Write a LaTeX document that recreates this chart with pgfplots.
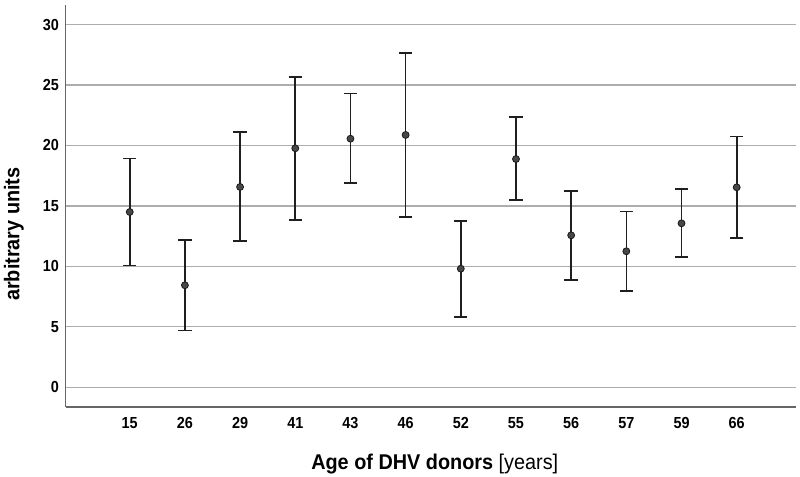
\documentclass[border=0pt]{standalone}
\usepackage{fontspec}
\setmainfont{Liberation Sans}
\newfontfamily\tickfont[FakeStretch=0.9]{Liberation Sans}
\newfontfamily\labfont[FakeStretch=0.93]{Liberation Sans}
\usepackage{pgfplots}
\pgfplotsset{compat=1.18}
\begin{document}
\begin{tikzpicture}
\useasboundingbox (-49.3pt,-52.5pt) rectangle (550.7pt,305.25pt);
\begin{axis}[
  at={(0,0)}, anchor=south west,
  scale only axis, width=547.5pt, height=301.5pt,
  xmin=-1.16, xmax=12.07, ymin=-1.63, ymax=31.62,
  axis lines=left,
  axis line style={-, draw=black!60, line width=1.1pt},
  ytick={0,5,...,30},
  xtick={0,...,11},
  xticklabels={15,26,29,41,43,46,52,55,56,57,59,66},
  ymajorgrids,
  grid style={black!32, line width=0.9pt},
  major tick length=0pt,
  tick style={draw=none},
  /pgf/number format/assume math mode=true,
  ticklabel style={font=\tickfont\bfseries\fontsize{12}{14}\selectfont},
  xticklabel style={yshift=-4pt},
  yticklabel style={xshift=-1.6pt},
  ylabel={\textbf{arbitrary units}},
  xlabel={\textbf{Age of DHV donors} [years]},
  label style={font=\labfont\fontsize{16}{19}\selectfont},
  ylabel style={at={(axis description cs:-0.0709,0.43)}, anchor=center, rotate=0},
  xlabel style={at={(axis description cs:0.5055,-0.155)}, anchor=base},
  clip=false,
]
\addplot[
  only marks,
  mark=*,
  mark size=2.6pt,
  mark options={fill=black!72, draw=black!90, line width=0.6pt},
  error bars/.cd,
    y dir=both, y explicit,
    error bar style={line width=1.25pt, black!88},
    error mark options={rotate=90, mark size=5pt, line width=1.25pt, black!88},
] coordinates {
  (0,14.50)  += (0,4.41) -= (0,4.44)
  (1,8.44)   += (0,3.74) -= (0,3.73)
  (2,16.57)  += (0,4.55) -= (0,4.49)
  (3,19.77)  += (0,5.92) -= (0,5.91)
  (4,20.56)  += (0,3.73) -= (0,3.69)
  (5,20.87)  += (0,6.78) -= (0,6.78)
  (6,9.81)   += (0,3.95) -= (0,3.97)
  (7,18.88)  += (0,3.45) -= (0,3.41)
  (8,12.57)  += (0,3.64) -= (0,3.67)
  (9,11.25)  += (0,3.28) -= (0,3.26)
  (10,13.56) += (0,2.82) -= (0,2.81)
  (11,16.54) += (0,4.19) -= (0,4.17)
};
\end{axis}
\end{tikzpicture}
\end{document}
